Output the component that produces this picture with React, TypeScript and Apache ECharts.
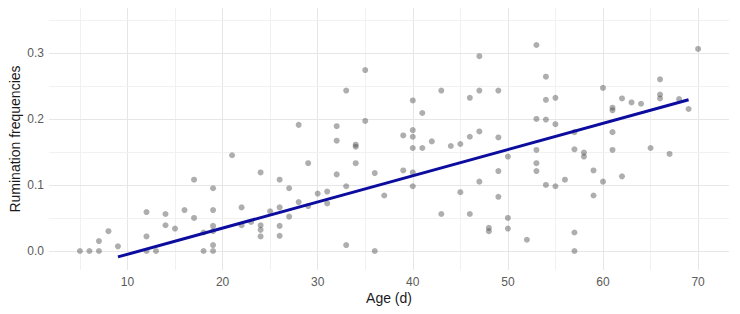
import React, { useEffect, useRef } from "react";
import * as echarts from "echarts";

// Age (days) of each observation and its rumination frequency
const ages: number[] = [
  5, 6, 7, 7, 8, 9, 12, 12, 12, 13, 14, 14, 15, 16, 17, 17, 18, 18,
  19, 19, 19, 19, 19, 19, 21, 22, 22, 23, 24, 24, 24, 24, 25, 26, 26, 26, 26,
  27, 27, 28, 28, 29, 29, 30, 31, 31, 32, 32, 32, 33, 33, 33, 34, 34, 34,
  35, 35, 36, 36, 37, 39, 39, 40, 40, 40, 40, 40, 40, 41, 41, 42, 43, 43,
  44, 45, 45, 46, 46, 46, 47, 47, 47, 47, 48, 48, 49, 49, 49, 49, 50, 50, 50,
  52, 53, 53, 53, 53, 53, 54, 54, 54, 54, 55, 55, 55, 56, 57, 57, 57, 57,
  58, 58, 59, 59, 60, 60, 61, 61, 61, 61, 62, 62, 63, 64, 65, 66, 66, 66,
  67, 68, 69, 70,
];
const frequencies: number[] = [
  0, 0, 0, 0.015, 0.03, 0.007, 0.059, 0.022, 0, 0, 0.056, 0.039, 0.034, 0.062, 0.108, 0.05, 0, 0.028,
  0.095, 0.062, 0.038, 0.03, 0.009, 0, 0.145, 0.066, 0.039, 0.044, 0.119, 0.039, 0.032, 0.022, 0.06, 0.108, 0.066, 0.038, 0.023,
  0.095, 0.052, 0.191, 0.074, 0.133, 0.068, 0.087, 0.09, 0.072, 0.189, 0.167, 0.116, 0.243, 0.098, 0.009, 0.161, 0.158, 0.133,
  0.274, 0.197, 0.118, 0, 0.084, 0.175, 0.122, 0.228, 0.183, 0.173, 0.156, 0.119, 0.098, 0.209, 0.156, 0.166, 0.243, 0.056,
  0.159, 0.162, 0.089, 0.232, 0.173, 0.056, 0.295, 0.243, 0.181, 0.105, 0.035, 0.03, 0.243, 0.172, 0.121, 0.082, 0.143, 0.05, 0.034,
  0.017, 0.312, 0.2, 0.153, 0.133, 0.121, 0.264, 0.229, 0.199, 0.1, 0.232, 0.192, 0.098, 0.108, 0.18, 0.154, 0.028, 0,
  0.149, 0.143, 0.122, 0.084, 0.247, 0.105, 0.217, 0.213, 0.18, 0.153, 0.231, 0.113, 0.225, 0.223, 0.156, 0.26, 0.237, 0.231,
  0.147, 0.23, 0.215, 0.306,
];

// Fitted linear trend, endpoints
const trendAges: number[] = [9, 69];
const trendValues: number[] = [-0.009, 0.229];

// Tick labels and grid positions
const xTicks: number[] = [10, 20, 30, 40, 50, 60, 70];
const xMinorGrid: number[] = [5, 15, 25, 35, 45, 55, 65];
const yTicks: number[] = [0, 0.1, 0.2, 0.3];
const yMinorGrid: number[] = [0.05, 0.15, 0.25, 0.35];

const FONT = "Liberation Sans, Arial, sans-serif";

export default function App() {
  const ref = useRef<HTMLDivElement>(null);

  useEffect(() => {
    document.body.style.margin = "0";
    if (!ref.current) return;
    const chart = echarts.init(ref.current, null, { renderer: "svg" });

    const gridLines = [
      ...xTicks.map((v) => ({ xAxis: v, lineStyle: { color: "#e6e6e6", width: 1 } })),
      ...xMinorGrid.map((v) => ({ xAxis: v, lineStyle: { color: "#f1f1f1", width: 1 } })),
      ...yTicks.map((v) => ({ yAxis: v, lineStyle: { color: "#e6e6e6", width: 1 } })),
      ...yMinorGrid.map((v) => ({ yAxis: v, lineStyle: { color: "#f1f1f1", width: 1 } })),
    ];

    chart.setOption({
      animation: false,
      grid: { left: 49, right: 11, top: 8, bottom: 44 },
      xAxis: {
        type: "value",
        min: 1.75,
        max: 73.25,
        axisLine: { show: false },
        axisTick: { show: false },
        splitLine: { show: false },
        axisLabel: {
          customValues: xTicks,
          color: "#5a5a5a",
          fontSize: 12,
          fontFamily: FONT,
          margin: 6,
        },
      },
      yAxis: {
        type: "value",
        min: -0.0288,
        max: 0.368,
        axisLine: { show: false },
        axisTick: { show: false },
        splitLine: { show: false },
        axisLabel: {
          customValues: yTicks,
          formatter: (v: number) => v.toFixed(1),
          color: "#5a5a5a",
          fontSize: 12,
          fontFamily: FONT,
          margin: 5,
        },
      },
      graphic: [
        {
          type: "text",
          x: 389,
          y: 298,
          style: {
            text: "Age (d)",
            fontSize: 14,
            fontFamily: FONT,
            fill: "#1a1a1a",
            align: "center",
            verticalAlign: "middle",
          },
        },
        {
          type: "text",
          x: 15,
          y: 139,
          rotation: Math.PI / 2,
          style: {
            text: "Rumination frequencies",
            fontSize: 14,
            fontFamily: FONT,
            fill: "#1a1a1a",
            align: "center",
            verticalAlign: "middle",
          },
        },
      ],
      series: [
        {
          type: "scatter",
          data: [],
          silent: true,
          z: 0,
          markLine: {
            z: 0,
            silent: true,
            symbol: ["none", "none"],
            label: { show: false },
            lineStyle: { type: "solid" },
            emphasis: { disabled: true },
            data: gridLines,
          },
        },
        {
          type: "scatter",
          symbolSize: 6,
          z: 6,
          itemStyle: { color: "rgba(70,70,70,0.55)" },
          data: ages.map((a, i) => [a, frequencies[i]]),
        },
        {
          type: "line",
          z: 7,
          symbol: "none",
          lineStyle: { color: "#0c0c9e", width: 3 },
          data: trendAges.map((a, i) => [a, trendValues[i]]),
        },
      ],
    });

    return () => chart.dispose();
  }, []);

  return <div ref={ref} style={{ width: 740, height: 314 }} />;
}
